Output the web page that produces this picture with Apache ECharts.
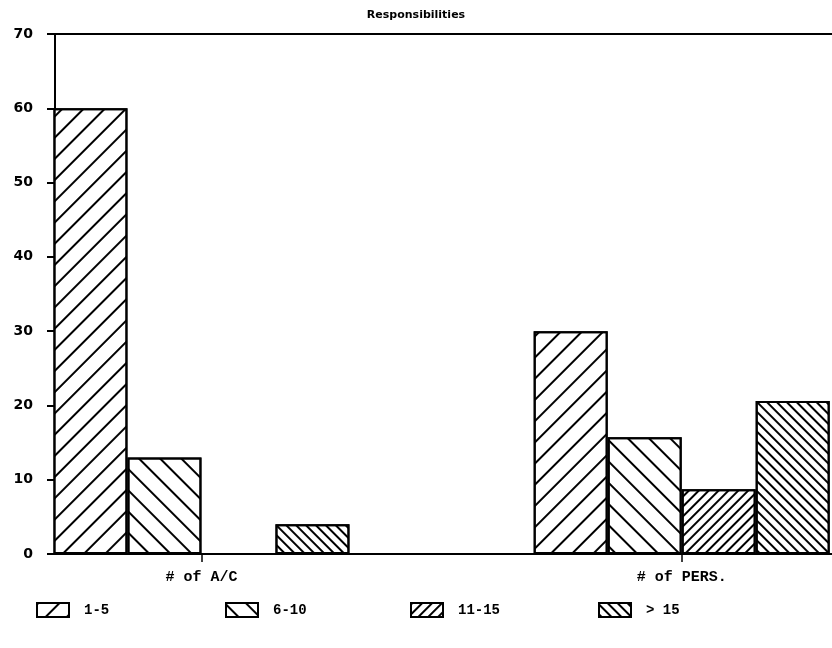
<!DOCTYPE html>
<html>
<head>
<meta charset="utf-8">
<script src="https://cdn.jsdelivr.net/npm/echarts@6/dist/echarts.min.js"></script>
<style>html,body{margin:0;padding:0;background:#fff}#c{width:832px;height:648px}</style>
</head>
<body>
<div id="c"></div>
<script>
const titleText = 'Responsibilities';
const categories = ['# of A/C', '# of PERS.'];
const seriesNames = ['1-5', '6-10', '11-15', '> 15'];
const s1to5 = [60, 30];
const s6to10 = [13, 15.7];
const s11to15 = [0, 8.7];
const sOver15 = [4, 20.6];
const yTicks = [0, 10, 20, 30, 40, 50, 60, 70];

const seriesValues = [s1to5, s6to10, s11to15, sOver15];
const decals = [
  {color: '#000', symbol: 'rect', symbolSize: 1, dashArrayX: [1, 0], dashArrayY: [1.7, 12.4], rotation: -Math.PI / 4},
  {color: '#000', symbol: 'rect', symbolSize: 1, dashArrayX: [1, 0], dashArrayY: [1.7, 12.4], rotation: Math.PI / 4},
  {color: '#000', symbol: 'rect', symbolSize: 1, dashArrayX: [1, 0], dashArrayY: [1.5, 4.5], rotation: -Math.PI / 4},
  {color: '#000', symbol: 'rect', symbolSize: 1, dashArrayX: [1, 0], dashArrayY: [1.5, 4.5], rotation: Math.PI / 4}
];
const legendLefts = [31, 220, 405, 593];
const font = 'DejaVu Sans';

const chart = echarts.init(document.getElementById('c'), null, {renderer: 'canvas'});
const option = {
  backgroundColor: '#fff',
  animation: false,
  title: {
    text: titleText, left: 'center', top: 5,
    textStyle: {fontFamily: font, fontWeight: 'bold', fontSize: 11, color: '#000'}
  },
  legend: seriesNames.map((n, i) => ({
    data: [n], left: legendLefts[i], top: 597, icon: 'rect',
    itemWidth: 32, itemHeight: 14, selectedMode: false,
    textStyle: {fontFamily: 'Liberation Mono', fontWeight: 'bold', fontSize: 14, color: '#000', padding: [0, 0, 0, 10]}
  })),
  grid: {left: 55, top: 34, width: 780, height: 520},
  xAxis: [{
    type: 'value', min: -0.305, max: 1.313,
    axisLine: {show: true, onZero: false, lineStyle: {color: '#000', width: 2}},
    splitLine: {show: false},
    axisTick: {show: true, customValues: [0, 1], length: 8, lineStyle: {color: '#000', width: 1.5}},
    axisLabel: {
      customValues: [0, 1], margin: 16,
      formatter: v => categories[Math.round(v)] || '',
      fontFamily: 'Liberation Mono', fontWeight: 'bold', fontSize: 15, color: '#000'
    }
  }, {
    type: 'value', position: 'top', min: -0.305, max: 1.313,
    axisLine: {show: true, onZero: false, lineStyle: {color: '#000', width: 2}},
    splitLine: {show: false}, axisTick: {show: false}, axisLabel: {show: false}
  }],
  yAxis: {
    type: 'value', min: 0, max: 70, interval: 10, position: 'left',
    axisLine: {show: true, onZero: false, lineStyle: {color: '#000', width: 2}},
    axisTick: {show: true, length: 8, lineStyle: {color: '#000', width: 2}},
    splitLine: {show: false},
    axisLabel: {
      margin: 22, color: '#000', fontFamily: font, fontWeight: 'bold', fontSize: 14,
      formatter: v => (yTicks.indexOf(v) >= 0 ? String(v) : '')
    }
  },
  series: seriesNames.map((n, i) => ({
    name: n, type: 'bar', barWidth: 74, barGap: '0%',
    data: categories.map((c, j) => [j, seriesValues[i][j]]),
    itemStyle: {color: '#fff', borderColor: '#000', borderWidth: 2, decal: decals[i]}
  })),
  aria: {enabled: false}
};
chart.setOption(option);
</script>
</body>
</html>
